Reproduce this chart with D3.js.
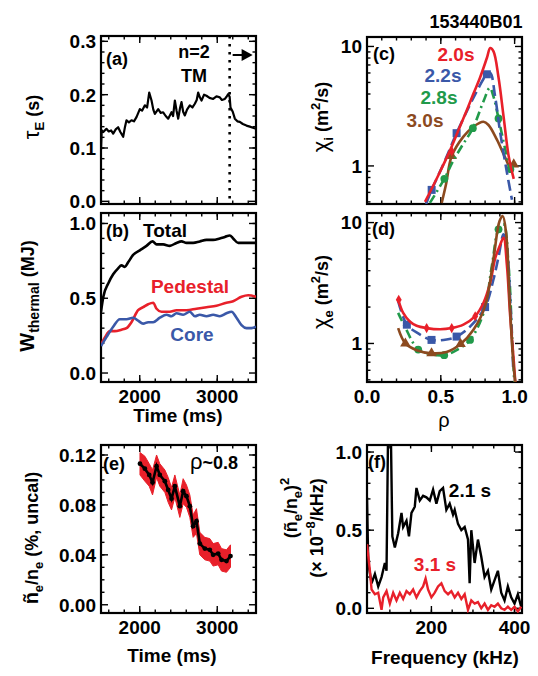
<!DOCTYPE html>
<html><head><meta charset="utf-8">
<script src="https://cdn.jsdelivr.net/npm/d3@7"></script>
<style>
body{margin:0;background:#fff}
text{font-family:"Liberation Sans",Arial,Helvetica,sans-serif;font-weight:bold;fill:#000}
</style>
</head><body>
<svg id="chart" width="538" height="676"></svg>
<script>
// ---------------- DATA ----------------
// (a) energy confinement time
const tauTime = [1500,1509,1530,1570,1600,1630,1657,1690,1721,1750,1786,1810,1829,1860,1893,1925,1958,2001,2030,2066,2095,2122,2152,2175,2195,2238,2270,2302,2335,2367,2410,2430,2453,2475,2496,2520,2539,2560,2582,2610,2646,2680,2711,2735,2754,2775,2797,2830,2861,2900,2947,2990,3033,3060,3098,3120,3141,3160,3171,3200,3227,3260,3291,3330,3377,3420,3460,3500];
const tauVal  = [0.096,0.133,0.130,0.136,0.131,0.133,0.127,0.135,0.139,0.130,0.121,0.140,0.152,0.148,0.152,0.150,0.158,0.173,0.170,0.180,0.176,0.204,0.189,0.172,0.164,0.173,0.166,0.167,0.160,0.155,0.167,0.160,0.189,0.170,0.155,0.175,0.186,0.168,0.161,0.172,0.180,0.176,0.183,0.190,0.204,0.195,0.189,0.200,0.198,0.194,0.192,0.197,0.195,0.190,0.192,0.196,0.201,0.196,0.176,0.168,0.155,0.150,0.149,0.145,0.142,0.140,0.138,0.136];
const tmOnset = 3160;

// (b) thermal stored energy
const totalTime = [1500,1530,1595,1657,1721,1764,1808,1850,1915,2001,2087,2165,2217,2302,2388,2474,2539,2603,2689,2775,2861,2947,3033,3098,3162,3205,3270,3334,3420,3500];
const totalVal  = [0.41,0.51,0.60,0.66,0.70,0.72,0.71,0.74,0.79,0.82,0.85,0.88,0.86,0.86,0.85,0.87,0.88,0.87,0.87,0.88,0.89,0.89,0.90,0.91,0.92,0.90,0.87,0.87,0.87,0.87];
const pedTime = [1500,1552,1616,1678,1764,1829,1893,1979,2044,2109,2173,2217,2281,2388,2474,2603,2732,2861,2990,3119,3205,3313,3399,3500];
const pedVal  = [0.19,0.24,0.28,0.28,0.29,0.30,0.34,0.42,0.44,0.46,0.47,0.43,0.41,0.41,0.42,0.42,0.43,0.44,0.45,0.47,0.48,0.51,0.52,0.51];
const coreTime = [1500,1570,1657,1743,1829,1915,1979,2044,2109,2173,2259,2345,2410,2474,2560,2646,2711,2775,2861,2947,3033,3119,3184,3248,3313,3377,3442,3500];
const coreVal  = [0.18,0.24,0.31,0.36,0.36,0.37,0.35,0.33,0.34,0.34,0.37,0.39,0.38,0.40,0.39,0.41,0.38,0.39,0.38,0.39,0.38,0.40,0.41,0.37,0.32,0.30,0.30,0.31];

// (c) ion thermal diffusivity chi_i(rho)
const chiI_20_rho = [0.393,0.48,0.56,0.62,0.676,0.72,0.766,0.812,0.835,0.857,0.891,0.925,0.96,0.994];
const chiI_20_val = [0.50,0.82,1.33,2.0,2.92,4.0,5.5,8.0,9.7,9.1,5.5,2.6,1.2,0.78];
const chiI_22_rho = [0.40,0.438,0.52,0.607,0.70,0.76,0.812,0.835,0.868,0.903,0.948,0.982];
const chiI_22_val = [0.48,0.63,1.05,1.88,3.3,4.6,5.85,6.0,3.8,1.88,0.88,0.52];
const chiI_28_rho = [0.426,0.524,0.58,0.642,0.717,0.79,0.832,0.857,0.891,0.937,0.971,0.99];
const chiI_28_val = [0.49,0.78,1.08,1.46,2.07,3.5,4.5,3.8,2.5,1.37,0.94,0.85];
const chiI_30_rho = [0.506,0.535,0.574,0.653,0.721,0.789,0.823,0.88,0.937,0.971,0.994];
const chiI_30_val = [0.49,0.70,1.21,1.76,2.13,2.34,2.2,1.66,1.17,0.97,1.03];
const mkI_20 = [[0.574,1.33]];
const mkI_22 = [[0.438,0.63],[0.607,1.88],[0.812,5.85]];
const mkI_28 = [[0.524,0.78],[0.717,2.07],[0.891,2.5],[0.971,0.94]];
const mkI_30 = [[0.574,1.21],[0.994,1.03]];

// (d) electron thermal diffusivity chi_e(rho)
const chiE_20_rho = [0.211,0.245,0.29,0.336,0.404,0.495,0.574,0.653,0.733,0.79,0.835,0.869,0.903,0.925,0.948,0.97,0.994,1.005];
const chiE_20_val = [2.32,1.79,1.52,1.40,1.34,1.31,1.34,1.43,1.68,2.18,3.2,5.1,6.6,7.5,4.4,1.68,0.72,0.47];
const chiE_22_rho = [0.211,0.27,0.347,0.437,0.539,0.607,0.698,0.80,0.857,0.891,0.925,0.948,0.97,0.99];
const chiE_22_val = [2.25,1.43,1.21,1.07,1.08,1.14,1.38,2.0,3.4,5.2,8.0,6.1,2.3,0.64];
const chiE_28_rho = [0.211,0.256,0.347,0.425,0.523,0.607,0.698,0.79,0.846,0.891,0.925,0.959,0.982,0.998];
const chiE_28_val = [1.79,1.38,0.89,0.82,0.80,0.88,1.07,1.79,4.4,8.8,9.7,4.4,1.2,0.47];
const chiE_30_rho = [0.211,0.26,0.336,0.437,0.539,0.634,0.721,0.80,0.857,0.898,0.92,0.943,0.966,0.99,1.005];
const chiE_30_val = [1.34,1.0,0.88,0.83,0.85,0.99,1.30,2.04,5.05,10.3,11.3,8.0,2.3,0.72,0.47];
const mkE_20 = [[0.215,2.3],[0.404,1.34],[0.574,1.34],[0.733,1.68]];
const mkE_22 = [[0.27,1.43],[0.437,1.07],[0.607,1.14],[0.80,2.0]];
const mkE_28 = [[0.347,0.89],[0.523,0.80],[0.698,1.07],[0.891,8.8]];
const mkE_30 = [[0.26,1.0],[0.437,0.83],[0.634,0.99]];

// (e) density fluctuation amplitude at rho~0.8
const flucTime = [2003,2066,2122,2165,2217,2259,2324,2367,2410,2453,2517,2560,2603,2646,2689,2732,2775,2840,2904,2947,3012,3055,3119,3171];
const flucVal  = [0.113,0.109,0.104,0.098,0.111,0.104,0.099,0.092,0.085,0.095,0.079,0.091,0.087,0.079,0.063,0.067,0.049,0.045,0.044,0.040,0.041,0.036,0.035,0.039];
const flucErr  = [0.009,0.010,0.009,0.010,0.009,0.009,0.009,0.010,0.009,0.009,0.009,0.010,0.009,0.009,0.009,0.010,0.009,0.009,0.009,0.009,0.009,0.009,0.009,0.009];

// (f) fluctuation spectra
const spec21Freq = [45,48,56,64,72,80,88,92,96,102,106,112,120,128,132,140,146,152,160,164,172,180,188,196,204,212,220,228,236,244,252,256,264,272,280,288,292,296,304,312,320,328,336,344,352,360,368,376,384,392,400,408,416];
const spec21Val  = [0.71,0.29,0.16,0.22,0.14,0.20,0.29,0.24,1.2,1.2,0.46,0.39,0.48,0.61,0.52,0.56,0.46,0.61,0.65,0.77,0.69,0.72,0.71,0.69,0.76,0.67,0.75,0.77,0.63,0.67,0.60,0.63,0.54,0.50,0.52,0.44,0.16,0.50,0.29,0.44,0.33,0.20,0.24,0.12,0.18,0.24,0.10,0.05,0.14,0.07,0.03,0.09,0.01];
const spec31Freq = [45,52,56,64,72,80,84,92,100,108,116,124,132,140,148,156,164,172,180,186,192,200,208,216,224,232,240,248,256,264,272,280,288,296,304,312,320,328,336,344,352,360,368,376,384,392,400,408,416];
const spec31Val  = [0.41,0.24,0.12,0.09,0.10,-0.01,0.07,0.11,0.03,0.10,0.05,0.10,0.06,0.11,0.09,0.12,0.07,0.11,0.14,0.19,0.12,0.07,0.10,0.14,0.16,0.11,0.09,0.11,0.07,0.10,0.06,0.09,-0.01,0.05,0.03,0.04,0.00,0.03,-0.01,0.02,0.01,0.03,0.00,-0.01,0.01,-0.01,0.01,-0.02,0.01];

// tick labels
const timeTicks = [2000,3000];
const rhoTicks = [0.0,0.5,1.0];
const freqTicks = [200,400];

// ---------------- DRAWING ----------------
const RED="#e8202a", BLUE="#3a58a8", GREEN="#219a4a", BROWN="#8c4a1f";
const svg = d3.select("#chart");
const defs = svg.append("defs");

function rich(g, x, y, parts, opts={}) {
  const t = g.append("text").attr("text-anchor", opts.anchor||"middle")
    .attr("font-size", opts.size||18)
    .attr("transform", `translate(${x},${y})` + (opts.rotate?` rotate(${opts.rotate})`:""));
  if (opts.fill) t.style("fill", opts.fill);
  let cur = 0;
  parts.forEach(p => {
    const [txt, mode, fs] = p;
    const target = mode==="sub"?5:mode==="sup"?-8:0;
    const ts = t.append("tspan").text(txt).attr("dy", target-cur);
    if (mode==="sub"||mode==="sup") ts.attr("font-size", 13);
    if (fs) ts.attr("font-size", fs);
    if (p[3]) ts.style("font-weight", p[3]);
    cur = target;
  });
  return t;
}

function drawFrame(g, xs, ys, o) {
  const [x0,x1] = xs.range(), [y0,y1] = ys.range(); // y0 bottom, y1 top
  const maj = 7, mnr = 3.5;
  const tk = g.append("g").attr("stroke","#000").attr("stroke-width",1.4);
  o.xMin.forEach(v=>{const X=xs(v); tk.append("line").attr("x1",X).attr("x2",X).attr("y1",y0).attr("y2",y0-mnr); tk.append("line").attr("x1",X).attr("x2",X).attr("y1",y1).attr("y2",y1+mnr);});
  o.xMaj.forEach(v=>{const X=xs(v); tk.append("line").attr("x1",X).attr("x2",X).attr("y1",y0).attr("y2",y0-maj); tk.append("line").attr("x1",X).attr("x2",X).attr("y1",y1).attr("y2",y1+maj);});
  o.yMin.forEach(v=>{const Y=ys(v); tk.append("line").attr("y1",Y).attr("y2",Y).attr("x1",x0).attr("x2",x0+mnr); tk.append("line").attr("y1",Y).attr("y2",Y).attr("x1",x1).attr("x2",x1-mnr);});
  o.yMaj.forEach(v=>{const Y=ys(v); tk.append("line").attr("y1",Y).attr("y2",Y).attr("x1",x0).attr("x2",x0+maj); tk.append("line").attr("y1",Y).attr("y2",Y).attr("x1",x1).attr("x2",x1-maj);});
  g.append("rect").attr("x",x0).attr("y",y1).attr("width",x1-x0).attr("height",y0-y1)
    .attr("fill","none").attr("stroke","#000").attr("stroke-width",2.2);
  o.yMaj.forEach(v=>{
    g.append("text").attr("x",x0-5).attr("y",ys(v)).attr("dy","0.36em").attr("text-anchor","end")
      .attr("font-size",19).text(o.yFmt(v));
  });
  if (o.xLabels) o.xMaj.forEach(v=>{
    g.append("text").attr("x",xs(v)).attr("y",y0+21).attr("text-anchor","middle")
      .attr("font-size",19).text(o.xFmt(v));
  });
}
function clip(id, xs, ys) {
  const [x0,x1]=xs.range(), [y0,y1]=ys.range();
  defs.append("clipPath").attr("id",id).append("rect").attr("x",x0).attr("y",y1).attr("width",x1-x0).attr("height",y0-y1);
  return svg.append("g").attr("clip-path",`url(#${id})`);
}
const zip = (a,b)=>a.map((v,i)=>[v,b[i]]);
const rng = (a,b,s)=>d3.range(a,b+s/2,s).map(v=>+v.toFixed(4));

// ----- Panel (a)
const xA = d3.scaleLinear().domain([1500,3500]).range([101,256]);
const yA = d3.scaleLinear().domain([-0.005,0.31]).range([204,36]);
const gA = svg.append("g");
drawFrame(gA, xA, yA, {xMaj:timeTicks, xMin:rng(1600,3400,200), yMaj:[0,0.1,0.2,0.3], yMin:rng(0.02,0.3,0.02), yFmt:d3.format(".1f"), xLabels:false});
const cA = clip("ca", xA, yA);
cA.append("path").datum(zip(tauTime,tauVal)).attr("fill","none").attr("stroke","#000").attr("stroke-width",2.2)
  .attr("stroke-linejoin","round").attr("d", d3.line().x(d=>xA(d[0])).y(d=>yA(d[1])));
cA.append("line").attr("x1",xA(tmOnset)).attr("x2",xA(tmOnset)).attr("y1",yA(0.31)).attr("y2",yA(-0.005))
  .attr("stroke","#000").attr("stroke-width",2.6).attr("stroke-dasharray","2.5,5.5");
gA.append("line").attr("x1",xA(tmOnset)+3).attr("x2",xA(tmOnset)+14).attr("y1",55).attr("y2",55).attr("stroke","#000").attr("stroke-width",2);
gA.append("path").attr("d",`M${xA(tmOnset)+12},49 L${xA(tmOnset)+23},55 L${xA(tmOnset)+12},61 Z`).attr("fill","#000");
gA.append("text").attr("x",106).attr("y",65).attr("font-size",18).text("(a)");
gA.append("text").attr("x",194).attr("y",58).attr("font-size",18).attr("text-anchor","middle").text("n=2");
gA.append("text").attr("x",194).attr("y",82).attr("font-size",18).attr("text-anchor","middle").text("TM");
rich(svg, 39, 117, [["τ","n",22,"normal"],["E","sub"],[" (s)","n"]], {rotate:-90});

// ----- Panel (b)
const xB = d3.scaleLinear().domain([1500,3500]).range([101,256]);
const yB = d3.scaleLinear().domain([-0.06,1.07]).range([382,213]);
const gB = svg.append("g");
drawFrame(gB, xB, yB, {xMaj:timeTicks, xMin:rng(1600,3400,200), yMaj:[0,0.5,1.0], yMin:rng(0.1,1.0,0.1), yFmt:d3.format(".1f"), xFmt:d3.format("d"), xLabels:true});
const cB = clip("cb", xB, yB);
const lineB = d3.line().x(d=>xB(d[0])).y(d=>yB(d[1])).curve(d3.curveMonotoneX);
cB.append("path").datum(zip(totalTime,totalVal)).attr("fill","none").attr("stroke","#000").attr("stroke-width",2.6).attr("d",lineB);
cB.append("path").datum(zip(pedTime,pedVal)).attr("fill","none").attr("stroke",RED).attr("stroke-width",2.6).attr("d",lineB);
cB.append("path").datum(zip(coreTime,coreVal)).attr("fill","none").attr("stroke",BLUE).attr("stroke-width",2.6).attr("d",lineB);
gB.append("text").attr("x",106).attr("y",237).attr("font-size",18).text("(b)");
gB.append("text").attr("x",143).attr("y",237).attr("font-size",19).text("Total");
gB.append("text").attr("x",190).attr("y",293).attr("font-size",19).attr("text-anchor","middle").style("fill",RED).text("Pedestal");
gB.append("text").attr("x",192).attr("y",341).attr("font-size",19).attr("text-anchor","middle").style("fill",BLUE).text("Core");
svg.append("text").attr("x",178).attr("y",422).attr("font-size",19).attr("text-anchor","middle").text("Time (ms)");
rich(svg, 34, 296, [["W","n",20],["thermal","sub",14],[" (MJ)","n"]], {rotate:-90});

// ----- Panel (c)
const xC = d3.scaleLinear().domain([0,1.05]).range([367,522]);
const yC = d3.scaleLog().domain([0.48,12]).range([204,37]);
const logMin = [0.5,0.6,0.7,0.8,0.9,2,3,4,5,6,7,8,9];
drawFrame(svg.append("g"), xC, yC, {xMaj:rhoTicks, xMin:rng(0.1,1.0,0.1), yMaj:[1,10], yMin:logMin, yFmt:d3.format("d"), xLabels:false});
const cC = clip("cc", xC, yC);
const lineC = d3.line().x(d=>xC(d[0])).y(d=>yC(d[1])).curve(d3.curveCatmullRom.alpha(0.5));
const profilesC = [
  [chiI_30_rho, chiI_30_val, BROWN, null, mkI_30, d3.symbolTriangle],
  [chiI_28_rho, chiI_28_val, GREEN, "9,4,2,4", mkI_28, d3.symbolCircle],
  [chiI_22_rho, chiI_22_val, BLUE, "11,5", mkI_22, d3.symbolSquare],
  [chiI_20_rho, chiI_20_val, RED, null, mkI_20, d3.symbolDiamond]
];
function drawProfiles(cg, profiles, line, xs, ys) {
  profiles.forEach(([r,v,col,dash,mk,sym])=>{
    const p = cg.append("path").datum(zip(r,v)).attr("fill","none").attr("stroke",col).attr("stroke-width",2.6).attr("d",line);
    if (dash) p.attr("stroke-dasharray",dash);
    mk.forEach(m=>{
      cg.append("path").attr("d",d3.symbol().type(sym).size(sym===d3.symbolSquare?64:sym===d3.symbolDiamond?30:48)())
        .attr("transform",`translate(${xs(m[0])},${ys(m[1])})`).attr("fill",col);
    });
  });
}
drawProfiles(cC, profilesC, lineC, xC, yC);
svg.append("text").attr("x",373).attr("y",60).attr("font-size",18).text("(c)");
svg.append("text").attr("x",456).attr("y",61).attr("font-size",19).attr("text-anchor","middle").style("fill",RED).text("2.0s");
svg.append("text").attr("x",443).attr("y",82).attr("font-size",19).attr("text-anchor","middle").style("fill",BLUE).text("2.2s");
svg.append("text").attr("x",439).attr("y",104).attr("font-size",19).attr("text-anchor","middle").style("fill",GREEN).text("2.8s");
svg.append("text").attr("x",425).attr("y",127).attr("font-size",19).attr("text-anchor","middle").style("fill",BROWN).text("3.0s");
svg.append("text").attr("x",476).attr("y",28).attr("font-size",18).attr("text-anchor","middle").text("153440B01");
rich(svg, 328, 117, [["χ","n",22,"normal"],["i","sub"],[" (m","n"],["2","sup"],["/s)","n"]], {rotate:-90});

// ----- Panel (d)
const xD = d3.scaleLinear().domain([0,1.05]).range([367,522]);
const yD = d3.scaleLog().domain([0.48,12]).range([382,213]);
drawFrame(svg.append("g"), xD, yD, {xMaj:rhoTicks, xMin:rng(0.1,1.0,0.1), yMaj:[1,10], yMin:logMin, yFmt:d3.format("d"), xFmt:d3.format(".1f"), xLabels:true});
const cD = clip("cd", xD, yD);
const lineD = d3.line().x(d=>xD(d[0])).y(d=>yD(d[1])).curve(d3.curveCatmullRom.alpha(0.5));
drawProfiles(cD, [
  [chiE_28_rho, chiE_28_val, GREEN, "9,4,2,4", mkE_28, d3.symbolCircle],
  [chiE_22_rho, chiE_22_val, BLUE, "11,5", mkE_22, d3.symbolSquare],
  [chiE_20_rho, chiE_20_val, RED, null, mkE_20, d3.symbolDiamond],
  [chiE_30_rho, chiE_30_val, BROWN, null, mkE_30, d3.symbolTriangle]
], lineD, xD, yD);
svg.append("text").attr("x",372).attr("y",235).attr("font-size",18).text("(d)");
svg.append("text").attr("x",444).attr("y",427).attr("font-size",20).attr("text-anchor","middle").style("font-weight","normal").text("ρ");
rich(svg, 328, 292, [["χ","n",22,"normal"],["e","sub"],[" (m","n"],["2","sup"],["/s)","n"]], {rotate:-90});

// ----- Panel (e)
const xE = d3.scaleLinear().domain([1500,3500]).range([101,256]);
const yE = d3.scaleLinear().domain([-0.0066,0.128]).range([613,445]);
drawFrame(svg.append("g"), xE, yE, {xMaj:timeTicks, xMin:rng(1600,3400,200), yMaj:[0,0.04,0.08,0.12], yMin:rng(0.01,0.12,0.01), yFmt:d3.format(".2f"), xFmt:d3.format("d"), xLabels:true});
const cE = clip("ce", xE, yE);
const fl = flucTime.map((t,i)=>({t, v:flucVal[i], e:flucErr[i]}));
cE.append("path").datum(fl).attr("fill",RED).attr("stroke",RED).attr("stroke-width",1)
  .attr("d", d3.area().x(d=>xE(d.t)).y0(d=>yE(d.v-d.e)).y1(d=>yE(d.v+d.e)));
cE.append("path").datum(fl).attr("fill","none").attr("stroke","#000").attr("stroke-width",2.6)
  .attr("d", d3.line().x(d=>xE(d.t)).y(d=>yE(d.v)));
cE.selectAll("circle").data(fl).join("circle").attr("cx",d=>xE(d.t)).attr("cy",d=>yE(d.v)).attr("r",2.4).attr("fill","#000");
svg.append("text").attr("x",103).attr("y",470).attr("font-size",18).text("(e)");
rich(svg, 214, 469, [["ρ","n",22,"normal"],["~0.8","n"]], {});
svg.append("text").attr("x",172).attr("y",662).attr("font-size",19).attr("text-anchor","middle").text("Time (ms)");
rich(svg, 38, 538, [["ñ","n",20],["e","sub"],["/n","n"],["e","sub"],[" (%, uncal)","n"]], {rotate:-90});

// ----- Panel (f)
const xF = d3.scaleLinear().domain([45,418]).range([367,522]);
const yF = d3.scaleLinear().domain([-0.03,1.045]).range([613,445]);
drawFrame(svg.append("g"), xF, yF, {xMaj:freqTicks, xMin:rng(100,400,50), yMaj:[0,0.5,1.0], yMin:rng(0.1,1.0,0.1), yFmt:d3.format(".1f"), xFmt:d3.format("d"), xLabels:true});
const cF = clip("cf", xF, yF);
const lineF = d3.line().x(d=>xF(d[0])).y(d=>yF(d[1]));
cF.append("path").datum(zip(spec21Freq,spec21Val)).attr("fill","none").attr("stroke","#000").attr("stroke-width",2.4).attr("d",lineF);
cF.append("path").datum(zip(spec31Freq,spec31Val)).attr("fill","none").attr("stroke",RED).attr("stroke-width",2.4).attr("d",lineF);
svg.append("text").attr("x",368).attr("y",468).attr("font-size",18).text("(f)");
svg.append("text").attr("x",470).attr("y",497).attr("font-size",19).attr("text-anchor","middle").text("2.1 s");
svg.append("text").attr("x",435).attr("y",571).attr("font-size",19).attr("text-anchor","middle").style("fill",RED).text("3.1 s");
svg.append("text").attr("x",445).attr("y",664).attr("font-size",19).attr("text-anchor","middle").text("Frequency (kHz)");
rich(svg, 297, 508, [["(ñ","n"],["e","sub"],["/n","n"],["e","sub"],[")","n"],["2","sup"]], {rotate:-90});
rich(svg, 323, 528, [["(× 10","n"],["−8","sup"],["/kHz)","n"]], {rotate:-90});
</script>
</body></html>
